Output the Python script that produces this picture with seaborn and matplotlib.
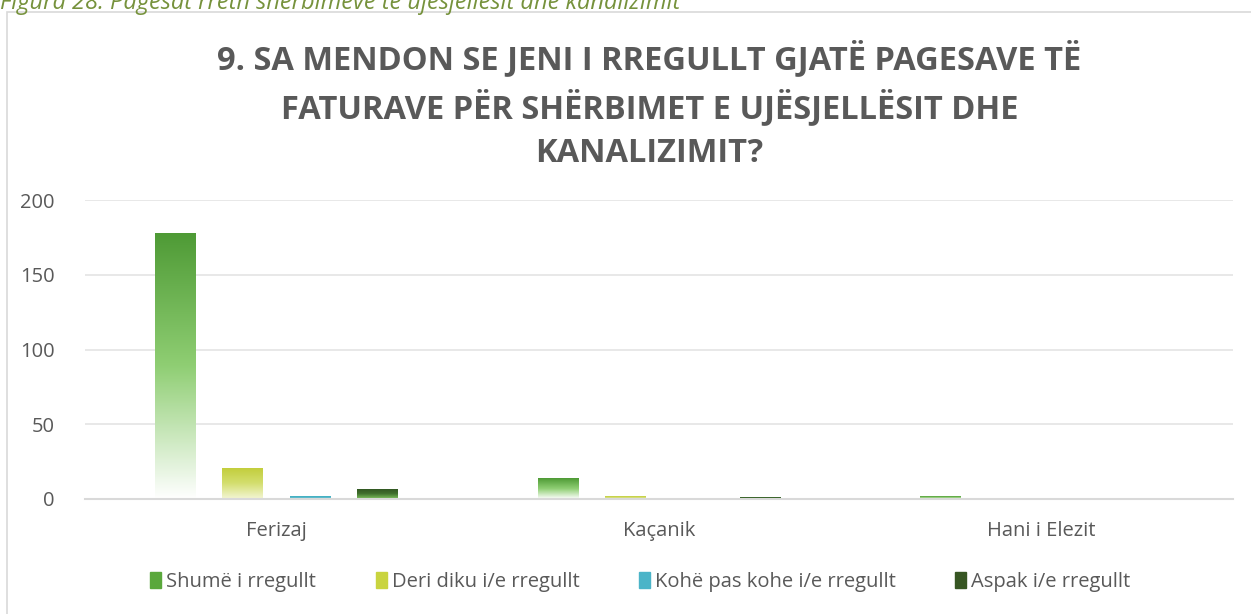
import matplotlib
matplotlib.use("Agg")
import matplotlib.pyplot as plt
import matplotlib.patches as mpatches
from matplotlib.colors import LinearSegmentedColormap
import seaborn as sns
import numpy as np
import pandas as pd

# data
komunat = ["Ferizaj", "Kaçanik", "Hani i Elezit"]
seritë = ["Shumë i rregullt", "Deri diku i/e rregullt", "Kohë pas kohe i/e rregullt", "Aspak i/e rregullt"]
shume_i_rregullt = [178, 14, 2]
deri_diku = [21, 2, 0]
kohe_pas_kohe = [2, 0, 0]
aspak = [7, 1, 0]
yticks = [0, 50, 100, 150, 200]

titulli = "9. SA MENDON SE JENI I RREGULLT GJATË PAGESAVE TË\nFATURAVE PËR SHËRBIMET E UJËSJELLËSIT DHE\nKANALIZIMIT?"
figura = "Figura 28: Pagesat rreth shërbimeve të ujësjellësit dhe kanalizimit"

# gradient stops (bottom -> top) per series
gradients = [
    ["#ffffff", "#8fce73", "#4e9a35"],
    ["#f4f6d6", "#d3de6e", "#c2cd39"],
    ["#cfeef3", "#4bb4c8", "#44aec0"],
    ["#7fc45e", "#3f6f2c", "#2f5321"],
]
legend_colors = ["#5aa83c", "#c9d43f", "#4bb4c8", "#375623"]

df = pd.DataFrame({
    "komuna": np.repeat(komunat, len(seritë)),
    "seria": seritë * len(komunat),
    "vlera": np.array([shume_i_rregullt, deri_diku, kohe_pas_kohe, aspak]).T.ravel(),
})

sns.set_theme(style="white")
plt.rcParams["font.family"] = ["Open Sans", "DejaVu Sans"]
grey = "#595959"

fig = plt.figure(figsize=(12.51, 6.14), dpi=100)
ax = fig.add_axes([85 / 1251, 1 - 499 / 614, (1233 - 85) / 1251, 299 / 614])

sns.barplot(data=df, x="komuna", y="vlera", hue="seria", hue_order=seritë,
            palette=legend_colors, width=0.705, gap=0.4, ax=ax, legend=False,
            errorbar=None, linewidth=0)

ax.set_ylim(0, 200)
ax.set_xlim(-0.5, 2.5)

# gradient fill for each bar
for i, cont in enumerate(ax.containers):
    cmap = LinearSegmentedColormap.from_list(f"g{i}", gradients[i])
    for patch in cont.patches:
        x0, y0 = patch.get_x(), patch.get_y()
        w, h = patch.get_width(), patch.get_height()
        if h <= 0:
            continue
        h = max(h, 1.2)
        grad = np.linspace(0, 1, 256).reshape(-1, 1)
        im = ax.imshow(grad, cmap=cmap, origin="lower", aspect="auto",
                       extent=[x0, x0 + w, y0, y0 + h], zorder=patch.get_zorder() + 0.1)
        if patch.get_height() >= 1.2:
            im.set_clip_path(patch)
ax.set_xlim(-0.5, 2.5)
ax.set_ylim(0, 200)

ax.set_yticks(yticks)
ax.yaxis.grid(True, color="#e4e4e4", linewidth=1.2)
ax.set_axisbelow(True)
for s in ["top", "right", "left"]:
    ax.spines[s].set_visible(False)
ax.spines["bottom"].set_color("#d9d9d9")
ax.spines["bottom"].set_linewidth(1.5)
ax.tick_params(axis="both", length=0, labelsize=14.5, colors=grey)
ax.tick_params(axis="y", pad=22)
ax.tick_params(axis="x", pad=16)
ax.set_xlabel("")
ax.set_ylabel("")

fig.text(0.519, 1 - 105 / 614, titulli, ha="center", va="center",
         fontsize=23.5, fontweight="bold", color=grey, linespacing=1.42)

handles = [mpatches.Patch(color=c, label=l) for c, l in zip(legend_colors, seritë)]
fig.legend(handles=handles, loc="center", bbox_to_anchor=(0.512, 1 - 582 / 614), ncol=4,
           frameon=False, fontsize=14.5, labelcolor=grey, handlelength=0.55,
           handleheight=0.85, handletextpad=0.25, columnspacing=2.95)

# chart border and cropped caption
fig.patches.append(mpatches.Rectangle((7 / 1251, -0.01), 1.1, 1 - 12 / 614 + 0.01,
                                      transform=fig.transFigure, fill=False,
                                      edgecolor="#d9d9d9", linewidth=1.2))
fig.text(0.0, 1 - 3 / 614, figura, ha="left", va="center", fontsize=17, style="italic",
         color="#76923c")

fig.savefig("out.png", dpi=100)
